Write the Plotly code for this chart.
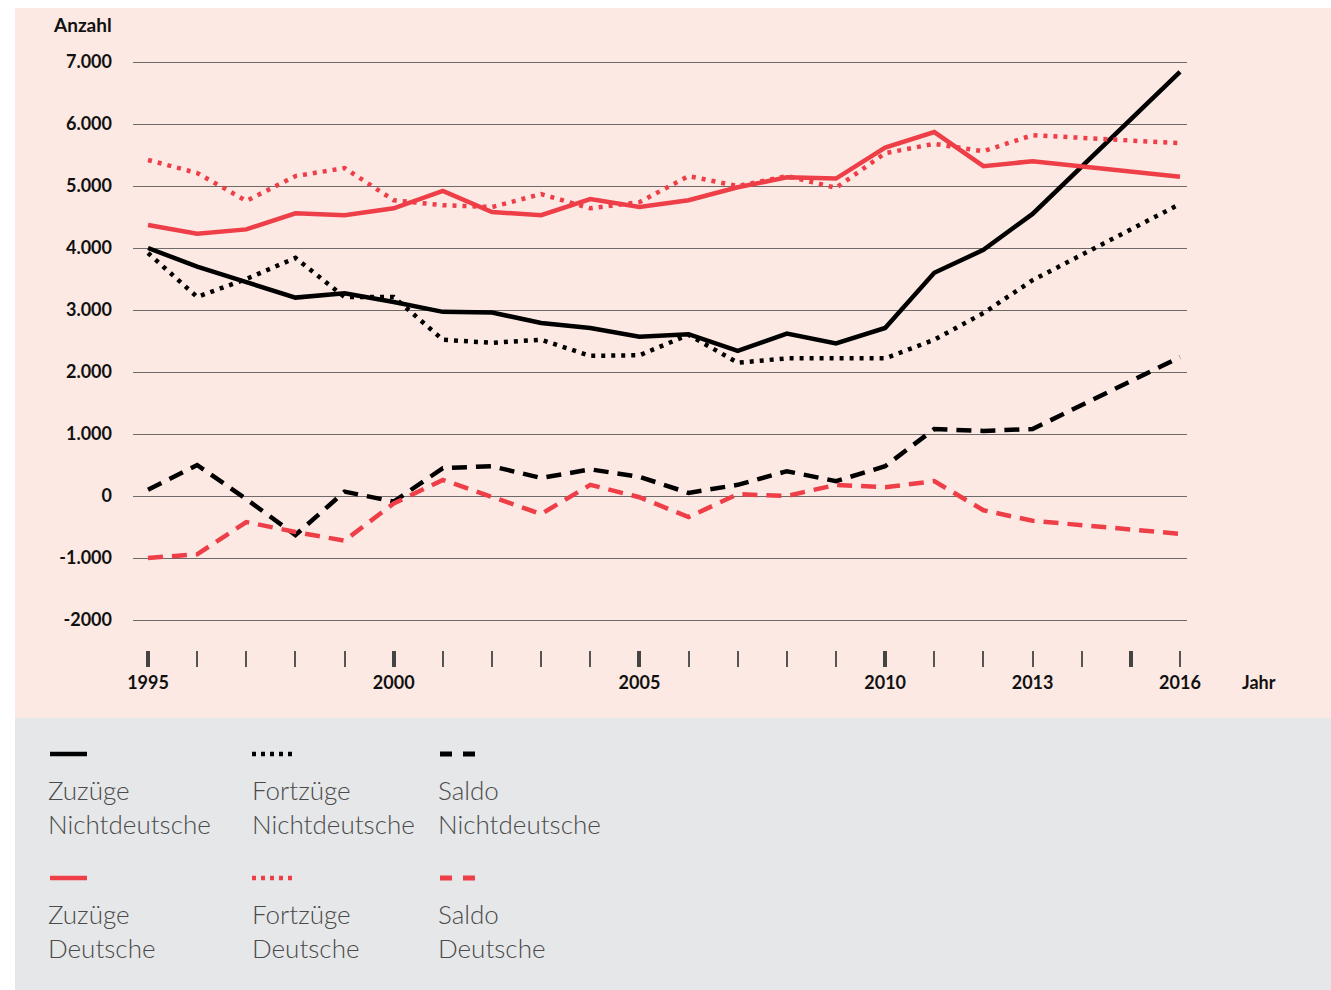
import plotly.graph_objects as go

# ---------------- data ----------------
years = list(range(1995, 2017))

zuzuege_nichtdeutsche = [4000, 3700, 3450, 3200, 3270, 3130, 2970, 2960, 2790, 2710, 2570,
                         2610, 2340, 2620, 2460, 2710, 3600, 3970, 4550, None, None, 6840]
fortzuege_nichtdeutsche = [3920, 3210, 3500, 3840, 3210, 3210, 2520, 2470, 2520, 2260, 2270,
                           2600, 2150, 2220, 2220, 2220, 2520, 2950, 3480, None, None, 4710]
saldo_nichtdeutsche = [100, 500, -50, -630, 70, -90, 450, 480, 290, 430, 310,
                       50, 180, 400, 240, 480, 1080, 1050, 1080, None, None, 2240]
zuzuege_deutsche = [4370, 4230, 4300, 4560, 4530, 4640, 4920, 4580, 4530, 4790, 4660,
                    4770, 4980, 5140, 5120, 5620, 5870, 5320, 5400, None, None, 5150]
fortzuege_deutsche = [5420, 5210, 4760, 5160, 5290, 4770, 4690, 4660, 4870, 4640, 4740,
                      5160, 5000, 5160, 4970, 5530, 5680, 5560, 5820, None, None, 5690]
saldo_deutsche = [-1000, -940, -420, -580, -720, -120, 260, -10, -290, 180, -20,
                  -340, 30, 0, 180, 140, 240, -230, -400, None, None, -610]

y_tickvals = [7000, 6000, 5000, 4000, 3000, 2000, 1000, 0, -1000, -2000]
y_ticktext = ["7.000", "6.000", "5.000", "4.000", "3.000", "2.000", "1.000", "0", "-1.000", "-2000"]
x_labeled = {1995: "1995", 2000: "2000", 2005: "2005", 2010: "2010", 2013: "2013", 2016: "2016"}
x_major = [1995, 2000, 2005, 2010, 2015]

legend_rows = [
    ["Zuzüge<br>Nichtdeutsche", "Fortzüge<br>Nichtdeutsche", "Saldo<br>Nichtdeutsche"],
    ["Zuzüge<br>Deutsche", "Fortzüge<br>Deutsche", "Saldo<br>Deutsche"],
]

# ---------------- style ----------------
BLACK = "#000000"
RED = "#ee3e48"
PINK = "#fde9e3"
GREY = "#e6e7e9"
GRID = "#6e6a6a"
DOT = "4px,6px"
DASH = "15px,9px"
LW = 4.5

W, H = 1331, 990
ML, MR, MT, MB = 133, W - 1187, 50, H - 650
PW, PH = W - ML - MR, H - MT - MB


def px_x(p):
    return (p - ML) / PW


def px_y(p):
    return (H - MB - p) / PH


fig = go.Figure()

series = [
    (zuzuege_nichtdeutsche, BLACK, "solid", "Zuzüge Nichtdeutsche"),
    (fortzuege_nichtdeutsche, BLACK, DOT, "Fortzüge Nichtdeutsche"),
    (saldo_nichtdeutsche, BLACK, DASH, "Saldo Nichtdeutsche"),
    (zuzuege_deutsche, RED, "solid", "Zuzüge Deutsche"),
    (fortzuege_deutsche, RED, DOT, "Fortzüge Deutsche"),
    (saldo_deutsche, RED, DASH, "Saldo Deutsche"),
]
for vals, col, dash, name in series:
    fig.add_trace(go.Scatter(x=years, y=vals, mode="lines", name=name, connectgaps=True,
                             line=dict(color=col, width=LW, dash=dash),
                             showlegend=False, hoverinfo="x+y+name"))

# overlay trace to carry the bold (major) ticks
fig.add_trace(go.Scatter(x=[years[0], years[-1]], y=[None, None], xaxis="x2",
                         showlegend=False, hoverinfo="skip"))

x_range = [1995 - 15 / 49.1, 2016 + 7 / 49.1]
y_range = [-2000 - 30 * 1000 / 62, 7000 + 12 * 1000 / 62]

tickfont = dict(family="Lato", size=18, color="#111111", weight="bold")

fig.update_layout(
    width=W, height=H,
    margin=dict(l=ML, r=MR, t=MT, b=MB),
    paper_bgcolor="white",
    plot_bgcolor="rgba(0,0,0,0)",
    xaxis=dict(range=x_range, tickmode="array", tickvals=years,
               ticktext=[x_labeled.get(y, "") for y in years],
               ticks="outside", ticklen=16, tickwidth=1.6, tickcolor="#555555",
               showgrid=False, zeroline=False, showline=False,
               tickfont=tickfont, ticklabelstandoff=0),
    xaxis2=dict(range=x_range, overlaying="x", anchor="y", side="bottom",
                tickmode="array", tickvals=x_major, ticks="outside", ticklen=16,
                tickwidth=3.6, tickcolor="#444444", showticklabels=False,
                showgrid=False, zeroline=False, showline=False),
    yaxis=dict(range=y_range, tickmode="array", tickvals=y_tickvals, ticktext=y_ticktext,
               showgrid=True, gridcolor=GRID, gridwidth=1.2, zeroline=False,
               showline=False, ticks="", tickfont=tickfont, ticklabelstandoff=20),
)

shapes = [
    dict(type="rect", xref="paper", yref="paper", layer="below",
         x0=px_x(15), x1=px_x(1331), y0=px_y(718), y1=px_y(8),
         fillcolor=PINK, line=dict(width=0)),
    dict(type="rect", xref="paper", yref="paper", layer="below",
         x0=px_x(15), x1=px_x(1331), y0=px_y(990), y1=px_y(718),
         fillcolor=GREY, line=dict(width=0)),
]

annotations = [
    dict(text="Anzahl", xref="paper", yref="paper", x=px_x(114), y=px_y(24),
         xanchor="right", yanchor="middle", showarrow=False,
         font=dict(family="Lato", size=19, color="#111111", weight="bold")),
    dict(text="Jahr", xref="paper", yref="paper", x=px_x(1259), y=px_y(682),
         xanchor="center", yanchor="middle", showarrow=False, font=tickfont),
]

col_x = [48, 252, 438]
row_y = [754, 878]
row_colors = [BLACK, RED]
legend_font = dict(family="Lato", size=26, color="#4a4a4a", weight=300)
for r, labels in enumerate(legend_rows):
    col = row_colors[r]
    ys = px_y(row_y[r])
    for c, label in enumerate(labels):
        x0 = col_x[c]
        if c == 0:
            shapes.append(dict(type="line", xref="paper", yref="paper",
                               x0=px_x(x0 + 2), x1=px_x(x0 + 39), y0=ys, y1=ys,
                               line=dict(color=col, width=4.5)))
        elif c == 1:
            shapes.append(dict(type="line", xref="paper", yref="paper",
                               x0=px_x(x0), x1=px_x(x0 + 44), y0=ys, y1=ys,
                               line=dict(color=col, width=4.5, dash="4px,5px")))
        else:
            shapes.append(dict(type="line", xref="paper", yref="paper",
                               x0=px_x(x0 + 2), x1=px_x(x0 + 38), y0=ys, y1=ys,
                               line=dict(color=col, width=5, dash="12px,11px")))
        annotations.append(dict(text=label, xref="paper", yref="paper",
                                x=px_x(x0 - 2), y=px_y(row_y[r] + 18),
                                xanchor="left", yanchor="top", align="left",
                                showarrow=False, font=legend_font))

fig.update_layout(shapes=shapes, annotations=annotations)

fig.write_html("out.html", config={"displayModeBar": False},
               post_script="document.body.style.margin='0';document.body.style.padding='0';")
